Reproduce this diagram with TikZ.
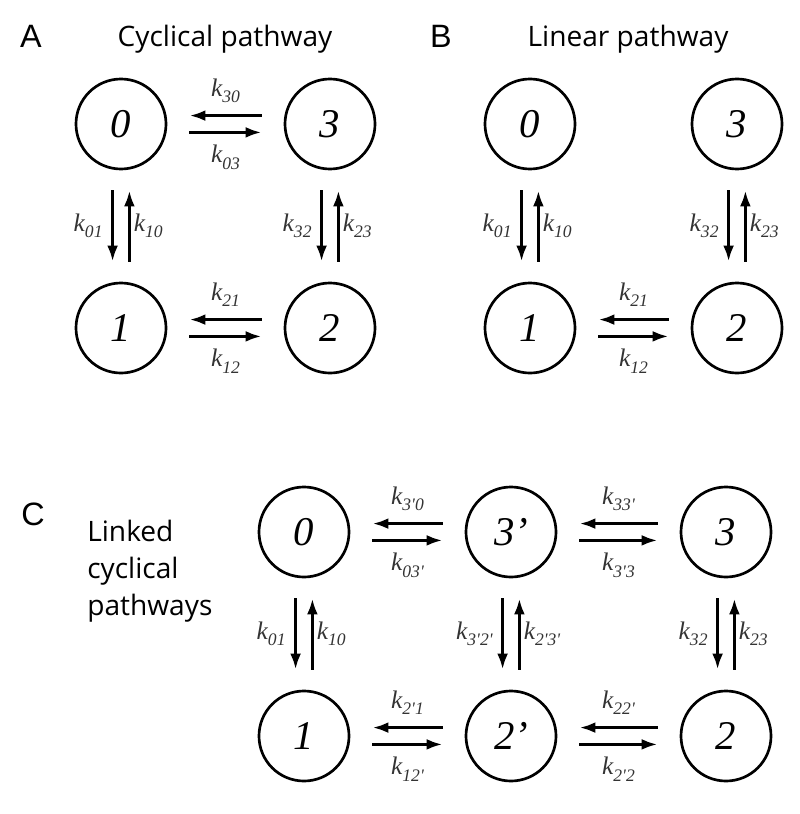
\documentclass[tikz,border=0pt]{standalone}
\usepackage{fontspec}
\usetikzlibrary{positioning,arrows.meta}
\newfontfamily\panelfont{Liberation Sans}
\newfontfamily\headfont{Open Sans}
\newfontfamily\serifit{Liberation Serif}

\begin{document}
\begin{tikzpicture}[x=0.025cm,y=-0.025cm,>={Latex[length=0.4cm,width=0.27cm]}]

\tikzstyle{state}=[circle,draw,line width=1.9pt,minimum size=2.25cm,inner sep=0pt,font=\serifit\itshape\fontsize{29}{30}\selectfont]
\tikzstyle{rate}=[->,line width=2.3pt,shorten >=0.55cm,shorten <=0.55cm]
\tikzstyle{vrate}=[->,line width=2.3pt,shorten >=0.5cm,shorten <=0.5cm]
\tikzstyle{klabel}=[font=\serifit\itshape\fontsize{18}{19}\selectfont,text=black!80,inner sep=2pt]
\tikzstyle{panel}=[font=\panelfont\fontsize{23}{26}\selectfont,anchor=base]
\tikzstyle{heading}=[font=\headfont\fontsize{20}{26.3}\selectfont,anchor=base]

\newcommand{\rk}[1]{k\raisebox{-0.55ex}{\fontsize{12.5}{13}\selectfont #1}}

\useasboundingbox (0,0) rectangle (800,814);

% panel letters and titles
\node[panel] (pA) at (31,48) {A};
\node[heading] (tA) at (225,47) {Cyclical pathway};
\node[panel] (pB) at (441,48) {B};
\node[heading] (tB) at (628,47) {Linear pathway};
\node[panel] (pC) at (33,525) {C};
\node[heading,anchor=north west,align=left,inner sep=0pt] (tC) at (87,520) {Linked\\cyclical\\pathways};

% states
\node[state] (A0) at (121,124) {0};
\node[state] (A3) at (330,124) {3};
\node[state] (A1) at (121,328) {1};
\node[state] (A2) at (330,328) {2};

\node[state] (B0) at (530,124) {0};
\node[state] (B3) at (737,124) {3};
\node[state] (B1) at (530,328) {1};
\node[state] (B2) at (737,328) {2};

\node[state] (C0) at (304,532) {0};
\node[state] (C3p) at (511,532) {3’};
\node[state] (C3) at (726,532) {3};
\node[state] (C1) at (304,736) {1};
\node[state] (C2p) at (511,736) {2’};
\node[state] (C2) at (726,736) {2};

% left/right pairs
\foreach \a/\b/\ka/\kb in {A0/A3/30/03,A1/A2/21/12,B1/B2/21/12,C0/C3p/3'0/03',C3p/C3/33'/3'3,C1/C2p/2'1/12',C2p/C2/22'/2'2}
{
    \draw[rate] ([yshift=0.21cm]\b.west) -- node[klabel,above=6pt] {\rk{\ka}} ([yshift=0.21cm]\a.east);
    \draw[rate] ([yshift=-0.21cm]\a.east) -- node[klabel,below=6pt] {\rk{\kb}} ([yshift=-0.21cm]\b.west);
}

% up/down pairs
\foreach \a/\b/\ka/\kb in {A0/A1/01/10,A3/A2/32/23,B0/B1/01/10,B3/B2/32/23,C0/C1/01/10,C3p/C2p/3'2'/2'3',C3/C2/32/23}
{
    \draw[vrate] ([xshift=-0.21cm]\a.south) -- node[klabel,left=4pt] {\rk{\ka}} ([xshift=-0.21cm]\b.north);
    \draw[vrate] ([xshift=0.21cm]\b.north) -- node[klabel,right=0pt] {\rk{\kb}} ([xshift=0.21cm]\a.south);
}

\end{tikzpicture}
\end{document}
